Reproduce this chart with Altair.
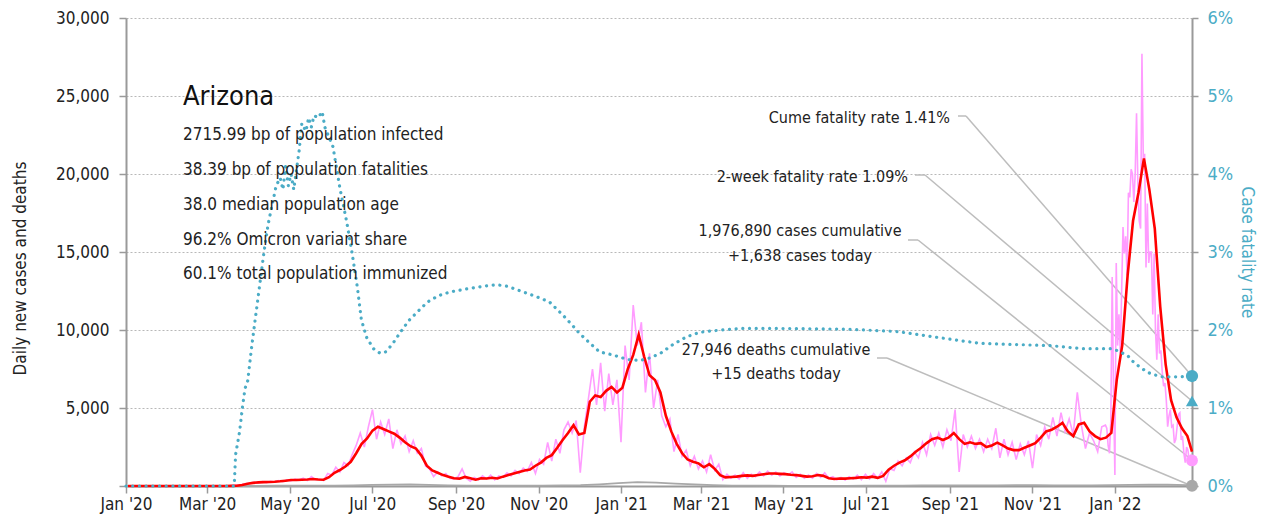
import altair as alt
import pandas as pd

FONT = "DejaVu Sans Condensed, Liberation Sans Narrow, Roboto, sans-serif"
INK = "#222222"
TEAL = "#4bacc6"
PINK = "#ff9cff"
RED = "#ff0000"
GREY = "#a8a8a8"
AXIS_GREY = "#9a9a9a"

# ---------------- data ----------------
# daily new cases, roughly every 3 days (2020-01-02 .. 2021-12-22)
cases_daily_a = [
    0, 0, 0, 0, 0, 0, 0, 0, 0, 0, 0, 0, 0, 0, 0, 0, 0, 0, 0, 0, 0, 0, 0, 0, 0, 10,
    40, 50, 100, 150, 180, 230, 200, 280, 220, 300, 250, 350, 280, 400, 330, 450, 380, 500,
    350, 600, 400, 450, 350, 800, 700, 1200, 900, 1500, 1300, 2000, 2600, 3400, 2500, 3800,
    4900, 3000, 4100, 3300, 4300, 2400, 3600, 2700, 3200, 2200, 2900, 2100, 2400, 1300, 1100,
    600, 900, 650, 800, 500, 450, 600, 1100, 500, 300, 550, 400, 650, 450, 700, 400, 650, 550,
    850, 650, 1000, 800, 1150, 950, 1500, 800, 1700, 1400, 2800, 1600, 3000, 2100, 3600, 4100,
    3400, 4200, 850, 3800, 5600, 7500, 5200, 7900, 4800, 7200, 5200, 6800, 2800, 9000, 6800,
    11600, 9000, 10500, 6000, 8500, 5000, 6800, 4500, 3800, 4300, 2200, 3300, 1900, 2300, 1300,
    1900, 1100, 1600, 900, 2000, 1000, 1400, 400, 750, 500, 700, 450, 850, 500, 750, 600, 900,
    650, 950, 700, 900, 650, 850, 700, 900, 550, 750, 500, 700, 500, 800, 550, 850, 500, 600,
    400, 550, 380, 600, 450, 700, 400, 750, 450, 800, 500, 900, 300, 1100, 1000, 1600, 1300,
    1800, 1500, 2200, 1800, 2800, 2000, 3300, 2600, 3400, 2500, 3600, 2900, 4900, 900, 3300,
    2500, 3200, 2400, 3000, 2200, 3000, 2400, 3700, 1800, 3000, 2000, 2800, 1700, 2700, 2000,
    2900, 1150, 3300, 2600, 3800, 3000, 4400, 3200, 4700, 3500, 4300, 3300, 6000, 3900, 2400,
    3400, 2900, 2200, 3800,
]
# daily new cases, every day 2021-12-25 .. 2022-02-27
cases_daily_b = [
    3900, 3700, 2600, 2100, 4200, 13400, 6000, 700, 14300, 9000, 11000, 8500, 12500, 16600,
    14900, 16000, 13500, 18800, 18500, 20300, 20000, 18200, 20000, 23900, 19400, 17000, 16500,
    27700, 21000, 21300, 14000, 18100, 14300, 15000, 15000, 11000, 14900, 10000, 8100, 11000,
    8500, 8700, 7300, 6400, 6600, 5500, 3800, 4500, 4900, 3800, 3900, 2750, 3000, 3800, 4600,
    4700, 2950, 3200, 2100, 1500, 2500, 2300, 1600, 1900, 1638,
]
# 7-day average of new cases, every ~4 days, plus the last day
cases_avg = [
    0, 0, 0, 0, 0, 0, 0, 0, 0, 0, 0, 0, 0, 0, 0, 0, 0, 0, 0, 10,
    20, 60, 140, 200, 230, 250, 260, 270, 300, 340, 380, 380, 400, 420, 450, 420, 400, 560,
    850, 1025, 1250, 1550, 2100, 2700, 3050, 3550, 3800, 3650, 3500, 3350, 3100, 2800, 2550,
    2400, 1950, 1300, 1000, 850, 700, 600, 500, 470, 580, 500, 400, 500, 480, 530, 480, 600,
    700, 800, 900, 1000, 1050, 1300, 1500, 1800, 1980, 2450, 2950, 3400, 3900, 3300, 3400,
    5400, 5800, 5700, 6100, 6350, 6000, 6300, 7500, 8400, 9700, 8300, 7100, 6800, 6000, 4500,
    3500, 2700, 2100, 1700, 1560, 1450, 1200, 1400, 1100, 700, 550, 580, 600, 650, 680, 650,
    700, 750, 800, 800, 780, 760, 720, 700, 650, 600, 620, 700, 650, 500, 450, 480, 470, 500,
    520, 560, 540, 600, 520, 650, 1050, 1300, 1500, 1650, 1900, 2200, 2450, 2750, 3000, 3100,
    2950, 3100, 3400, 3000, 2700, 2800, 2700, 2750, 2500, 2600, 2780, 2600, 2400, 2300, 2300,
    2450, 2600, 2750, 3100, 3500, 3600, 3800, 4050, 3500, 3200, 3950, 4050, 3500, 3200, 3000,
    3100, 3400, 6800, 9000, 13500, 17000, 18800, 21000, 19000, 16500, 11500, 7800, 5500, 4400,
    3700, 3200,
]
cases_avg_last = 2200
# daily deaths, every 14 days (day offsets from 2020-01-01), plus the last day
deaths_day = list(range(0, 785, 14)) + [788]
deaths = [
    0, 0, 0, 0, 0, 0, 5, 10, 15, 15, 20, 25, 40, 70, 90, 100, 70, 40, 25, 20, 15, 15, 25, 40,
    60, 110, 180, 250, 220, 150, 100, 60, 30, 20, 15, 12, 10, 10, 10, 15, 20, 30, 40, 45, 40,
    40, 45, 50, 55, 45, 40, 40, 50, 70, 90, 80, 60, 15,
]
# cumulative case fatality rate (%), day offsets from 2020-01-01
cfr_day = [
    0, 80, 81, 84, 86, 88, 90, 93, 96, 99, 102, 105, 108, 111, 114, 116, 118, 120, 122, 124,
    126, 128, 130, 133, 135, 137, 139, 142, 145, 147, 153, 158, 163, 167, 171, 174, 178, 183,
    188, 192, 197, 202, 209, 217, 223, 231, 240, 253, 264, 274, 282, 290, 303, 313, 323, 330,
    335, 343, 350, 360, 371, 380, 387, 395, 404, 414, 424, 434, 454, 483, 534, 570, 594, 618,
    631, 646, 683, 707, 729, 735, 741, 744, 749, 755, 759, 766, 779, 788,
]
cfr_pct = [
    0, 0, 0.4, 0.7, 1.0, 1.25, 1.35, 1.8, 2.2, 2.6, 3.0, 3.35, 3.6, 3.85, 3.95, 3.8, 4.1, 3.85,
    4.0, 3.8, 4.05, 4.3, 4.65, 4.55, 4.72, 4.6, 4.75, 4.72, 4.8, 4.6, 4.35, 3.83, 3.4, 3.0,
    2.55, 2.13, 1.9, 1.76, 1.7, 1.72, 1.82, 1.95, 2.12, 2.26, 2.36, 2.44, 2.49, 2.53, 2.56,
    2.58, 2.56, 2.51, 2.43, 2.36, 2.19, 2.06, 1.96, 1.83, 1.72, 1.68, 1.62, 1.61, 1.64, 1.70,
    1.81, 1.91, 1.97, 1.99, 2.02, 2.02, 2.01, 1.98, 1.92, 1.86, 1.83, 1.82, 1.80, 1.76, 1.76,
    1.72, 1.66, 1.60, 1.53, 1.46, 1.43, 1.40, 1.40, 1.41,
]
last_date = "2022-02-27"
cume_cfr = 1.41
two_week_cfr = 1.09
cases_today = 1638
deaths_today = 15

title_text = "Arizona"
stats_lines = [
    "2715.99 bp of population infected",
    "38.39 bp of population fatalities",
    "38.0 median population age",
    "96.2% Omicron variant share",
    "60.1% total population immunized",
]
tick_months = [(2020, 1), (2020, 3), (2020, 5), (2020, 7), (2020, 9), (2020, 11),
               (2021, 1), (2021, 3), (2021, 5), (2021, 7), (2021, 9), (2021, 11), (2022, 1)]

# ---------------- tables ----------------
start = pd.Timestamp("2020-01-01")
dates_a = list(pd.date_range("2020-01-02 12:00", "2021-12-22 07:00", periods=len(cases_daily_a)))
dates_b = list(pd.date_range("2021-12-25", last_date, freq="D"))
df_daily = pd.DataFrame({"date": dates_a + dates_b, "cases": cases_daily_a + cases_daily_b})

avg_dates = list(pd.date_range("2020-01-02 12:00", "2022-02-23 14:00", periods=len(cases_avg)))
df_avg = pd.DataFrame({"date": avg_dates + [pd.Timestamp(last_date)],
                       "cases": cases_avg + [cases_avg_last]})

df_deaths = pd.DataFrame({"date": [start + pd.Timedelta(days=d) for d in deaths_day],
                          "cases": deaths})
df_cfr = pd.DataFrame({"date": [start + pd.Timedelta(days=d) for d in cfr_day],
                       "cfr": [v / 100 for v in cfr_pct]})

df_left_pts = pd.DataFrame({"date": [pd.Timestamp(last_date)] * 2,
                            "cases": [cases_today, deaths_today],
                            "kind": ["cases", "deaths"]})
df_right_pts = pd.DataFrame({"date": [pd.Timestamp(last_date)] * 2,
                             "cfr": [cume_cfr / 100, two_week_cfr / 100],
                             "kind": ["cume", "twoweek"]})
dummy = pd.DataFrame({"k": [0]})

# ---------------- scales / axes ----------------
x_scale = alt.Scale(domain=[alt.DateTime(year=2020, month=1, date=1),
                            alt.DateTime(year=2022, month=2, date=27)], nice=False)
x_axis = alt.Axis(values=[alt.DateTime(year=y, month=m, date=1) for y, m in tick_months],
                  format="%b '%y", title=None, labelFontSize=17, labelColor=INK,
                  labelFont=FONT, labelFlush=False, tickColor=AXIS_GREY, tickSize=7,
                  tickWidth=1.5, domainColor=AXIS_GREY, domainWidth=2, labelPadding=3,
                  grid=False)

left_scale = alt.Scale(domain=[0, 30000], nice=False)
left_axis = alt.Axis(values=[0, 5000, 10000, 15000, 20000, 25000, 30000],
                     labelExpr="datum.value == 0 ? '' : format(datum.value, ',')",
                     title="Daily new cases and deaths", titleFont=FONT, titleFontSize=17,
                     titleFontWeight="normal", titleColor=INK, titlePadding=26, titleY=250,
                     labelFont=FONT, labelFontSize=17, labelColor=INK, labelPadding=10,
                     labelFlush=False, domainColor=AXIS_GREY, domainWidth=2,
                     tickColor=AXIS_GREY, tickSize=7, tickWidth=1.5, grid=True,
                     gridColor="#b8b8b8", gridDash=[2, 2], gridWidth=1)

right_scale = alt.Scale(domain=[0, 0.06], nice=False)
right_axis = alt.Axis(orient="right", values=[0, 0.01, 0.02, 0.03, 0.04, 0.05, 0.06],
                      labelExpr="format(datum.value, '.0%')",
                      title="Case fatality rate", titleFont=FONT,
                      titleFontSize=17, titleFontWeight="normal", titleColor=TEAL,
                      titlePadding=5, labelFont=FONT, labelFontSize=18, labelColor=TEAL,
                      labelPadding=9, labelFlush=False, domainColor=AXIS_GREY, domainWidth=2,
                      tickColor=AXIS_GREY, tickSize=6, tickWidth=1.5, grid=False)

X = alt.X("date:T", scale=x_scale, axis=x_axis)
YL = alt.Y("cases:Q", scale=left_scale, axis=left_axis)
YR = alt.Y("cfr:Q", scale=right_scale, axis=right_axis)

# ---------------- left (cases/deaths) group ----------------
pink = alt.Chart(df_daily).mark_line(color=PINK, strokeWidth=1.6).encode(x=X, y=YL)
grey = alt.Chart(df_deaths).mark_line(color=GREY, strokeWidth=1.8).encode(x=X, y=YL)
red = alt.Chart(df_avg).mark_line(color=RED, strokeWidth=2.6).encode(x=X, y=YL)
left_pts = alt.Chart(df_left_pts).mark_point(filled=True, opacity=1, size=140, shape="circle").encode(
    x=X, y=YL,
    color=alt.Color("kind:N", scale=alt.Scale(domain=["cases", "deaths"], range=[PINK, GREY]),
                    legend=None))

# ---------------- right (fatality rate) group ----------------
cfr_line = alt.Chart(df_cfr).mark_line(color=TEAL, strokeWidth=3.2, strokeDash=[0.1, 6.6],
                                       strokeCap="round").encode(x=X, y=YR)
right_pts = alt.Chart(df_right_pts).mark_point(filled=True, opacity=1, size=150, color=TEAL).encode(
    x=X, y=YR,
    shape=alt.Shape("kind:N", scale=alt.Scale(domain=["cume", "twoweek"],
                                               range=["circle", "triangle-up"]), legend=None))

# ---------------- annotations (pixel positions inside the plot area) ----------------
leader_segments = [
    (832, 98, 840, 98), (840, 98, 1066, 358),
    (789, 157, 799, 157), (799, 157, 1066, 383),
    (782, 222, 792, 222), (792, 222, 1066, 442),
    (751, 340, 761, 340), (761, 340, 1066, 468),
]
leader_charts = [
    alt.Chart(dummy).mark_rule(color="#bdbdbd", strokeWidth=1.5).encode(
        x=alt.value(a), y=alt.value(b), x2=alt.value(c), y2=alt.value(d))
    for a, b, c, d in leader_segments
]


def label(text, px, py, size=17, align="left", color=INK):
    return alt.Chart(dummy).mark_text(
        text=text, align=align, baseline="alphabetic", font=FONT, fontSize=size,
        color=color).encode(x=alt.value(px), y=alt.value(py))


text_charts = [label(title_text, 57, 87, size=27, color="#111111")]
for line, py in zip(stats_lines, [122, 157, 192, 227, 261]):
    text_charts.append(label(line, 57, py))
text_charts += [
    label(f"Cume fatality rate {cume_cfr:.2f}%", 824, 105, size=16, align="right"),
    label(f"2-week fatality rate {two_week_cfr:.2f}%", 782, 164, size=16, align="right"),
    label("1,976,890 cases cumulative", 674, 218, size=16, align="center"),
    label(f"+{cases_today:,} cases today", 674, 243, size=16, align="center"),
    label("27,946 deaths cumulative", 650, 337, size=16, align="center"),
    label(f"+{deaths_today} deaths today", 650, 361, size=16, align="center"),
]

left_group = alt.layer(*leader_charts, pink, grey, red, left_pts)
right_group = alt.layer(cfr_line, right_pts, *text_charts)

chart = alt.layer(left_group, right_group).resolve_scale(y="independent").properties(
    width=1066, height=468,
    padding={"left": 118, "top": 10, "right": 68, "bottom": 31},
    autosize=alt.AutoSizeParams(type="none"),
    background="white",
).configure_view(strokeWidth=0)

chart.save("out.html", embed_options={"renderer": "svg", "actions": False})
